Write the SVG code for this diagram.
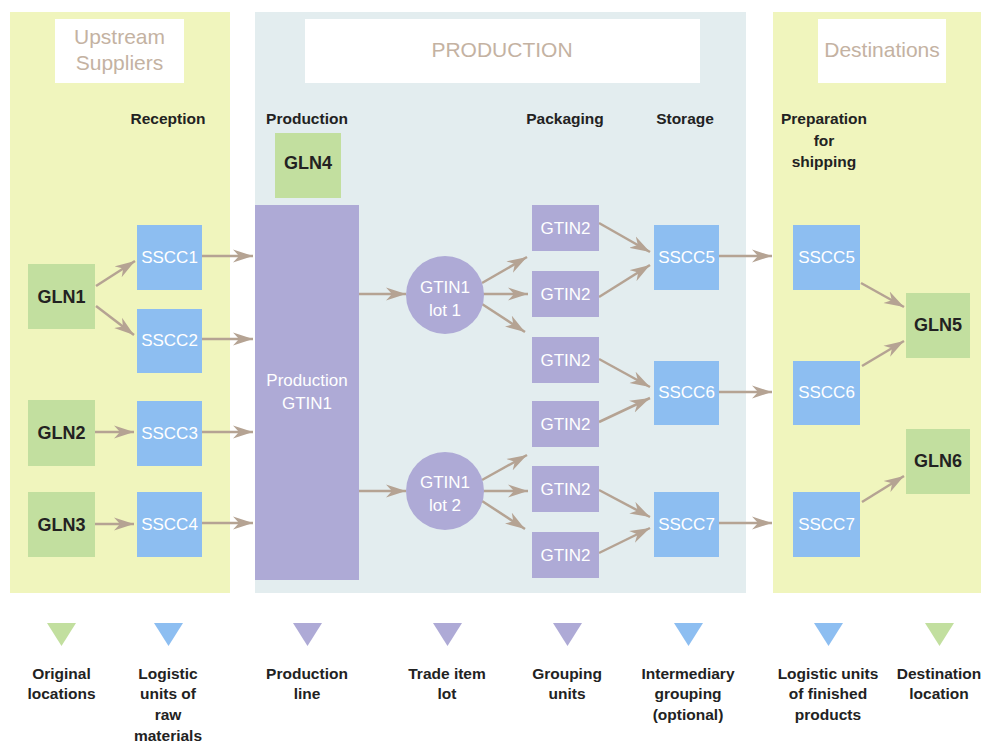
<svg xmlns="http://www.w3.org/2000/svg" width="981" height="744" viewBox="0 0 981 744">
<defs>
<marker id="ah" markerUnits="userSpaceOnUse" markerWidth="22" markerHeight="14" refX="20" refY="7" orient="auto">
<path d="M0,0.5 L20,7 L0,13.5 L6,7 z" fill="#b5a393"/>
</marker>
<style>
.yl{fill:#f0f5bd}
.bl{fill:#e3edef}
.wh{fill:#ffffff}
.g{fill:#c2df9f}
.b{fill:#8dbef1}
.p{fill:#aeaad6}
.ttl{font-family:"Liberation Sans Narrow","Liberation Sans",sans-serif;font-size:21px;fill:#c4b2a2;text-anchor:middle}
.hd{font-family:"Liberation Sans Narrow","Liberation Sans",sans-serif;font-size:15.5px;font-weight:bold;fill:#222;text-anchor:middle}
.nd{font-family:"Liberation Sans Narrow","Liberation Sans",sans-serif;font-size:18px;font-weight:bold;fill:#222;text-anchor:middle}
.nw{font-family:"Liberation Sans Narrow","Liberation Sans",sans-serif;font-size:17px;fill:#ffffff;text-anchor:middle}
.lg{font-family:"Liberation Sans Narrow","Liberation Sans",sans-serif;font-size:15.5px;font-weight:bold;fill:#222;text-anchor:middle}
.ar{stroke:#b5a393;stroke-width:2.5;fill:none;marker-end:url(#ah)}
</style>
</defs>
<rect width="981" height="744" fill="#ffffff"/>
<g id="panel-upstream">
<rect class="yl" x="10" y="12" width="220" height="581"/>
<rect class="wh" x="55" y="19" width="129" height="64"/>
<text class="ttl" x="119.5" y="44">Upstream</text>
<text class="ttl" x="119.5" y="70">Suppliers</text>
<text class="hd" x="168" y="124">Reception</text>
</g>
<g id="panel-production">
<rect class="bl" x="255" y="12" width="491" height="581"/>
<rect class="wh" x="305" y="19" width="395" height="64"/>
<text class="ttl" x="502" y="57">PRODUCTION</text>
<text class="hd" x="307" y="124">Production</text>
<text class="hd" x="565" y="124">Packaging</text>
<text class="hd" x="685" y="124">Storage</text>
</g>
<g id="panel-destinations">
<rect class="yl" x="773" y="12" width="208" height="581"/>
<rect class="wh" x="818" y="19" width="128" height="64"/>
<text class="ttl" x="882" y="57">Destinations</text>
<text class="hd" x="824" y="124">Preparation</text>
<text class="hd" x="824" y="146">for</text>
<text class="hd" x="824" y="167">shipping</text>
</g>
<g id="connectors">
<line class="ar" x1="96" y1="286" x2="135" y2="261"/>
<line class="ar" x1="96" y1="306" x2="134" y2="335"/>
<line class="ar" x1="202" y1="256" x2="253" y2="256"/>
<line class="ar" x1="202" y1="339" x2="253" y2="339"/>
<line class="ar" x1="95" y1="432" x2="134" y2="432"/>
<line class="ar" x1="202" y1="432" x2="253" y2="432"/>
<line class="ar" x1="95" y1="524" x2="134" y2="524"/>
<line class="ar" x1="202" y1="523" x2="253" y2="523"/>
<line class="ar" x1="359" y1="294" x2="406" y2="294"/>
<line class="ar" x1="359" y1="491" x2="406" y2="491"/>
<line class="ar" x1="482" y1="283" x2="527" y2="257"/>
<line class="ar" x1="483" y1="294" x2="528" y2="294"/>
<line class="ar" x1="482" y1="304" x2="525" y2="332"/>
<line class="ar" x1="482" y1="480" x2="527" y2="455"/>
<line class="ar" x1="483" y1="491" x2="528" y2="491"/>
<line class="ar" x1="482" y1="501" x2="525" y2="529"/>
<line class="ar" x1="599" y1="223" x2="650" y2="252"/>
<line class="ar" x1="599" y1="297" x2="650" y2="265"/>
<line class="ar" x1="599" y1="359" x2="650" y2="387"/>
<line class="ar" x1="599" y1="422" x2="650" y2="398"/>
<line class="ar" x1="599" y1="490" x2="650" y2="517"/>
<line class="ar" x1="599" y1="553" x2="650" y2="528"/>
<line class="ar" x1="719" y1="256" x2="772" y2="256"/>
<line class="ar" x1="719" y1="392" x2="772" y2="392"/>
<line class="ar" x1="719" y1="523" x2="772" y2="523"/>
<line class="ar" x1="861" y1="283" x2="904" y2="307"/>
<line class="ar" x1="862" y1="366" x2="904" y2="341"/>
<line class="ar" x1="862" y1="502" x2="904" y2="476"/>
</g>
<g id="GLN1"><rect class="g" x="28" y="264" width="67" height="65"/><text class="nd" x="61.5" y="303">GLN1</text></g>
<g id="GLN2"><rect class="g" x="28" y="400" width="67" height="66"/><text class="nd" x="61.5" y="439">GLN2</text></g>
<g id="GLN3"><rect class="g" x="28" y="492" width="67" height="65"/><text class="nd" x="61.5" y="531">GLN3</text></g>
<g id="SSCC1"><rect class="b" x="137" y="225" width="65" height="65"/><text class="nw" x="169.5" y="263">SSCC1</text></g>
<g id="SSCC2"><rect class="b" x="137" y="309" width="65" height="64"/><text class="nw" x="169.5" y="346">SSCC2</text></g>
<g id="SSCC3"><rect class="b" x="137" y="401" width="65" height="65"/><text class="nw" x="169.5" y="439">SSCC3</text></g>
<g id="SSCC4"><rect class="b" x="137" y="492" width="65" height="65"/><text class="nw" x="169.5" y="530">SSCC4</text></g>
<g id="GLN4"><rect class="g" x="275" y="133" width="66" height="65"/><text class="nd" x="308" y="169">GLN4</text></g>
<g id="production-gtin1"><rect class="p" x="255" y="205" width="104" height="375"/><text class="nw" x="307" y="386">Production</text><text class="nw" x="307" y="409">GTIN1</text></g>
<g id="lot1"><circle class="p" cx="445" cy="295" r="39"/><text class="nw" x="445" y="293">GTIN1</text><text class="nw" x="445" y="316">lot 1</text></g>
<g id="lot2"><circle class="p" cx="445" cy="491" r="39"/><text class="nw" x="445" y="488">GTIN1</text><text class="nw" x="445" y="511">lot 2</text></g>
<g id="GTIN2-1"><rect class="p" x="532" y="205" width="67" height="46"/><text class="nw" x="565.5" y="234">GTIN2</text></g>
<g id="GTIN2-2"><rect class="p" x="532" y="271" width="67" height="46"/><text class="nw" x="565.5" y="300">GTIN2</text></g>
<g id="GTIN2-3"><rect class="p" x="532" y="337" width="67" height="46"/><text class="nw" x="565.5" y="366">GTIN2</text></g>
<g id="GTIN2-4"><rect class="p" x="532" y="401" width="67" height="46"/><text class="nw" x="565.5" y="430">GTIN2</text></g>
<g id="GTIN2-5"><rect class="p" x="532" y="466" width="67" height="46"/><text class="nw" x="565.5" y="495">GTIN2</text></g>
<g id="GTIN2-6"><rect class="p" x="532" y="532" width="67" height="46"/><text class="nw" x="565.5" y="561">GTIN2</text></g>
<g id="SSCC5"><rect class="b" x="654" y="225" width="65" height="65"/><text class="nw" x="686.5" y="263">SSCC5</text></g>
<g id="SSCC6"><rect class="b" x="654" y="361" width="65" height="64"/><text class="nw" x="686.5" y="398">SSCC6</text></g>
<g id="SSCC7"><rect class="b" x="654" y="492" width="65" height="65"/><text class="nw" x="686.5" y="530">SSCC7</text></g>
<g id="SSCC5-out"><rect class="b" x="793" y="225" width="67" height="65"/><text class="nw" x="826.5" y="263">SSCC5</text></g>
<g id="SSCC6-out"><rect class="b" x="793" y="361" width="67" height="64"/><text class="nw" x="826.5" y="398">SSCC6</text></g>
<g id="SSCC7-out"><rect class="b" x="793" y="492" width="67" height="65"/><text class="nw" x="826.5" y="530">SSCC7</text></g>
<g id="GLN5"><rect class="g" x="906" y="293" width="64" height="65"/><text class="nd" x="938" y="331">GLN5</text></g>
<g id="GLN6"><rect class="g" x="906" y="429" width="64" height="65"/><text class="nd" x="938" y="467">GLN6</text></g>
<g id="legend">
<path class="g" d="M47,623 L76,623 L61.5,646 z"/>
<path class="b" d="M154,623 L183,623 L168.5,646 z"/>
<path class="p" d="M293,623 L322,623 L307.5,646 z"/>
<path class="p" d="M433,623 L462,623 L447.5,646 z"/>
<path class="p" d="M553,623 L582,623 L567.5,646 z"/>
<path class="b" d="M674,623 L703,623 L688.5,646 z"/>
<path class="b" d="M814,623 L843,623 L828.5,646 z"/>
<path class="g" d="M925,623 L954,623 L939.5,646 z"/>
<text class="lg" x="61.5" y="679">Original</text><text class="lg" x="61.5" y="699">locations</text>
<text class="lg" x="168" y="679">Logistic</text><text class="lg" x="168" y="699">units of</text><text class="lg" x="168" y="720">raw</text><text class="lg" x="168" y="741">materials</text>
<text class="lg" x="307" y="679">Production</text><text class="lg" x="307" y="699">line</text>
<text class="lg" x="447" y="679">Trade item</text><text class="lg" x="447" y="699">lot</text>
<text class="lg" x="567" y="679">Grouping</text><text class="lg" x="567" y="699">units</text>
<text class="lg" x="688" y="679">Intermediary</text><text class="lg" x="688" y="699">grouping</text><text class="lg" x="688" y="720">(optional)</text>
<text class="lg" x="828" y="679">Logistic units</text><text class="lg" x="828" y="699">of finished</text><text class="lg" x="828" y="720">products</text>
<text class="lg" x="939" y="679">Destination</text><text class="lg" x="939" y="699">location</text>
</g>
</svg>
